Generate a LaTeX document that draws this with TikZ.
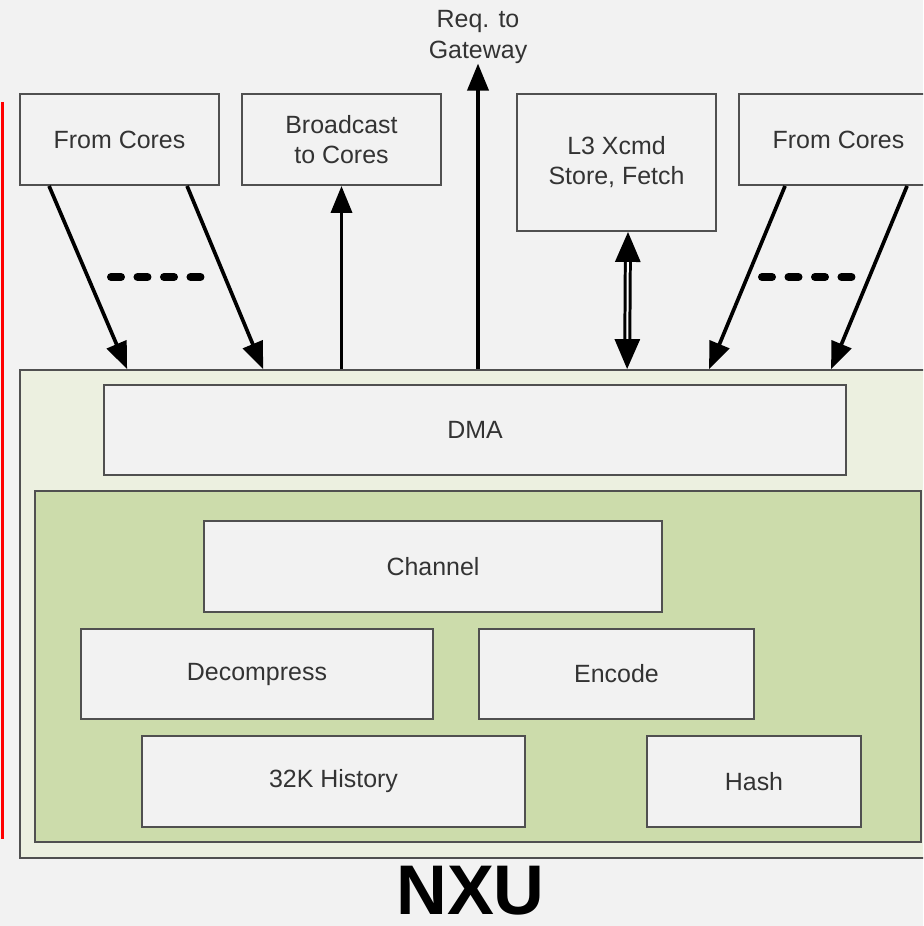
\documentclass[tikz,border=0pt]{standalone}
\usepackage{fontspec}
\setmainfont{Liberation Sans}
\usetikzlibrary{arrows.meta, calc}

\begin{document}
\begin{tikzpicture}[
    x=0.02cm, y=-0.02cm,
    every node/.style={font=\rmfamily},
]

% ---------------------------------------------------------------- colours
\definecolor{bggray}{HTML}{F2F2F2}     % the page, and the boxes
\definecolor{boxedge}{HTML}{505050}
\definecolor{labelcolor}{HTML}{333333}
\definecolor{nxufill}{HTML}{ECF0E0}    % the NXU unit
\definecolor{corefill}{HTML}{CCDCAB}   % the compression core

\tikzset{
    blk/.style={rectangle, draw=boxedge, line width=1.1pt, fill=bggray,
                text=labelcolor, align=center, inner sep=0pt,
                font=\fontsize{14.2pt}{17.1pt}\selectfont},
    topblk/.style={blk, minimum width=3.98cm, minimum height=1.82cm},
    arr/.style={-{Triangle[length=0.54cm, width=0.42cm]}, line width=2.1pt},
    dashline/.style={line width=0.16cm, line cap=round,
                     dash pattern=on 0.2cm off 0.33cm},
}

% ================================================================
% px layout, y going down, 923 x 926
%   top row   y = 94 .. 185   (L3 box down to 231)
%   NXU       y = 370 .. 858
%   DMA       y = 385 .. 475
%   rows      y = 521, 629, 736   (each 90 high)
% ================================================================

\fill[bggray] (0,0) rectangle (923,926);
\useasboundingbox (0,0) rectangle (923,926);
\clip (0,0) rectangle (923,926);

% the red margin rule
\draw[red, line width=0.07cm] (2.5,102) -- (2.5,839);

% ----------------------------------------------------------------------
% NXU unit
% ----------------------------------------------------------------------
\node[rectangle, draw=boxedge, line width=1.1pt, fill=nxufill,
      minimum width=18.3cm, minimum height=9.76cm] (nxu) at (477.5, 614) {};
\node[rectangle, draw=boxedge, line width=1.1pt, fill=corefill,
      minimum width=17.72cm, minimum height=7.02cm] (core) at (478, 666.5) {};

\node[blk, minimum width=14.84cm, minimum height=1.8cm] (dma) at (475, 430) {DMA};
\node[blk, minimum width=9.16cm, minimum height=1.82cm] (chan) at (433, 566.5) {Channel};
\node[blk, minimum width=7.04cm, minimum height=1.8cm] (decomp) at (257, 674) {Decompress};
\node[blk, minimum width=5.5cm, minimum height=1.8cm] (enc) at (616.5, 674) {Encode};
\node[blk, minimum width=7.66cm, minimum height=1.82cm] (hist) at (333.5, 781.5) {32K History};
\node[blk, minimum width=4.28cm, minimum height=1.82cm] (hash) at (754, 781.5) {Hash};

\node[font=\fontsize{40pt}{40pt}\selectfont\bfseries, inner sep=0pt] (name)
    at (470.5, 891) {NXU};

% ----------------------------------------------------------------------
% outside the unit
% ----------------------------------------------------------------------
\node[topblk] (fcl) at (119.5, 139.5) {From Cores};
\node[topblk] (bcast) at (341.5, 139.5) {Broadcast\\to Cores};
\node[topblk, minimum height=2.74cm] (l3) at (616.5, 162.5) {L3 Xcmd\\Store, Fetch};
\node[topblk] (fcr) at (838.5, 139.5) {From Cores};

\node[text=labelcolor, align=center, inner sep=0pt,
      font=\fontsize{14.2pt}{17.1pt}\selectfont] (gw) at (478, 37) {Req. to\\Gateway};

% ----------------------------------------------------------------------
% connectors
% ----------------------------------------------------------------------
\draw[arr] ($(fcl.south west)+(30,0)$) -- ($(nxu.north west)+(108,0)$);
\draw[arr] ($(fcl.south west)+(168,0)$) -- ($(nxu.north west)+(244,0)$);
\draw[arr] (nxu.north -| bcast.south) -- (bcast.south);
\draw[arr] (nxu.north -| gw.south) -- (gw.south);
\draw[{Triangle[length=0.6cm, width=0.5cm]}-{Triangle[length=0.6cm, width=0.5cm]},
      line width=1.7pt, double, double distance=0.04cm]
    ($(l3.south)+(11.5,0)$) -- ($(nxu.north west)+(608,0)$);
\draw[arr] ($(fcr.south west)+(47,0)$) -- ($(nxu.north west)+(690,0)$);
\draw[arr] ($(fcr.south west)+(169,0)$) -- ($(nxu.north west)+(812,0)$);

% the "and so on" dashes between the core arrows
\coordinate (dl1) at (111, 277);
\coordinate (dl2) at (200.5, 277);
\coordinate (dr1) at (762, 277);
\coordinate (dr2) at (851.5, 277);
\draw[dashline] (dl1) -- (dl2);
\draw[dashline] (dr1) -- (dr2);

\end{tikzpicture}
\end{document}
